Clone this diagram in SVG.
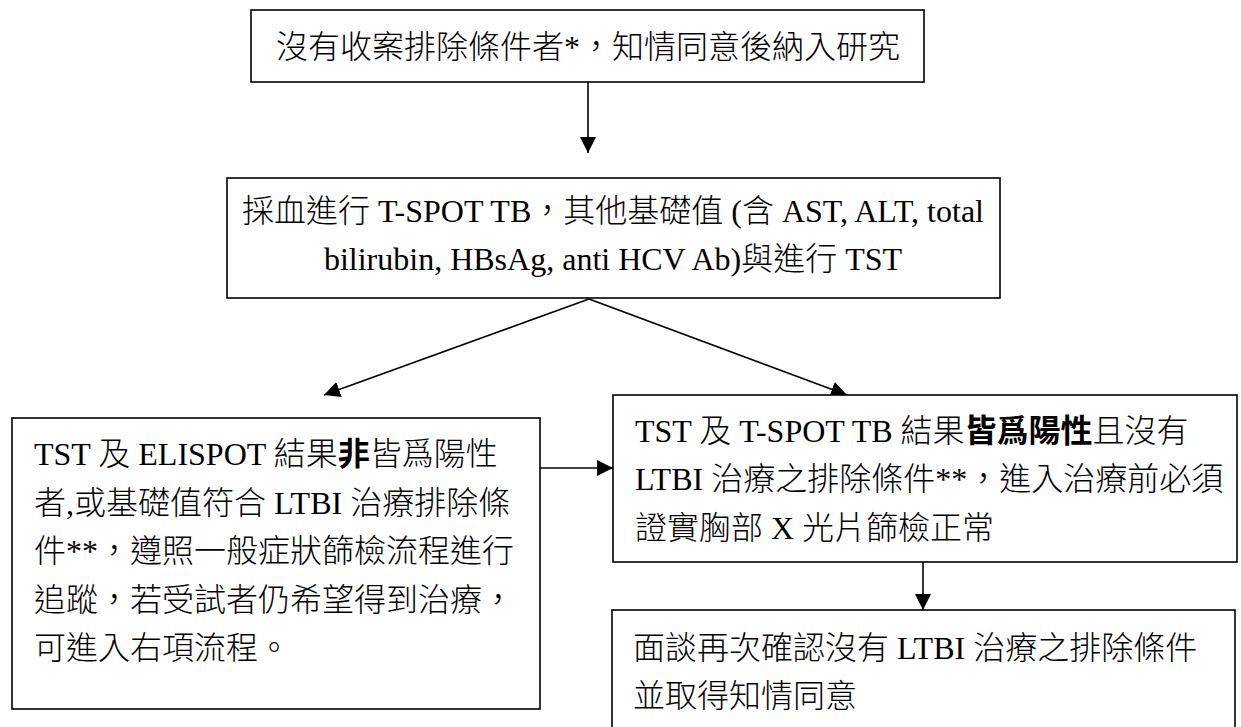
<svg xmlns="http://www.w3.org/2000/svg" width="1241" height="727" viewBox="0 0 1241 727">
<style>
.box{fill:#ffffff;stroke:#000000;stroke-width:1.6}
.t{font-family:"Liberation Serif","Noto Sans CJK TC",serif;font-size:32px;font-weight:300;fill:#000000}
.c{text-anchor:middle}
.b{font-weight:bold}
.con{stroke:#000000;stroke-width:1.6;fill:none;marker-end:url(#ah)}
</style>
<defs>
<marker id="ah" markerUnits="userSpaceOnUse" markerWidth="17" markerHeight="17" viewBox="0 0 17 17" refX="16" refY="8.5" orient="auto">
<path d="M0,0.5 L16,8.5 L0,16.5 Z" fill="#000000"/>
</marker>
</defs>
<rect width="1241" height="727" fill="#ffffff"/>
<g id="connectors">
<line class="con" x1="588" y1="82" x2="588" y2="153"/>
<line class="con" x1="589" y1="299" x2="324" y2="395"/>
<line class="con" x1="589" y1="299" x2="847" y2="395"/>
<line class="con" x1="540" y1="468" x2="613" y2="468"/>
<line class="con" x1="923" y1="562" x2="923" y2="610"/>
</g>
<g id="n1">
<rect class="box" x="251" y="10" width="673" height="72"/>
<text class="t c" x="588" y="58">沒有收案排除條件者*，知情同意後納入研究</text>
</g>
<g id="n2">
<rect class="box" x="227" y="178" width="773" height="120"/>
<text class="t c" x="613" y="222">採血進行 T-SPOT TB，其他基礎值 (含 AST, ALT, total</text>
<text class="t c" x="613" y="270">bilirubin, HBsAg, anti HCV Ab)與進行 TST</text>
</g>
<g id="n3">
<rect class="box" x="12" y="418" width="528" height="291"/>
<text class="t" x="34" y="465">TST 及 ELISPOT 結果<tspan class="b">非</tspan>皆爲陽性</text>
<text class="t" x="34" y="514">者,或基礎值符合 LTBI 治療排除條</text>
<text class="t" x="34" y="562">件**，遵照一般症狀篩檢流程進行</text>
<text class="t" x="34" y="611">追蹤，若受試者仍希望得到治療，</text>
<text class="t" x="34" y="659">可進入右項流程。</text>
</g>
<g id="n4">
<rect class="box" x="613" y="395" width="624" height="167"/>
<text class="t" x="635" y="442">TST 及 T-SPOT TB 結果<tspan class="b">皆爲陽性</tspan>且沒有</text>
<text class="t" x="635" y="490">LTBI 治療之排除條件**，進入治療前必須</text>
<text class="t" x="635" y="539">證實胸部 X 光片篩檢正常</text>
</g>
<g id="n5">
<rect class="box" x="612" y="610" width="623" height="140"/>
<text class="t" x="633" y="659">面談再次確認沒有 LTBI 治療之排除條件</text>
<text class="t" x="633" y="707">並取得知情同意</text>
</g>
</svg>
